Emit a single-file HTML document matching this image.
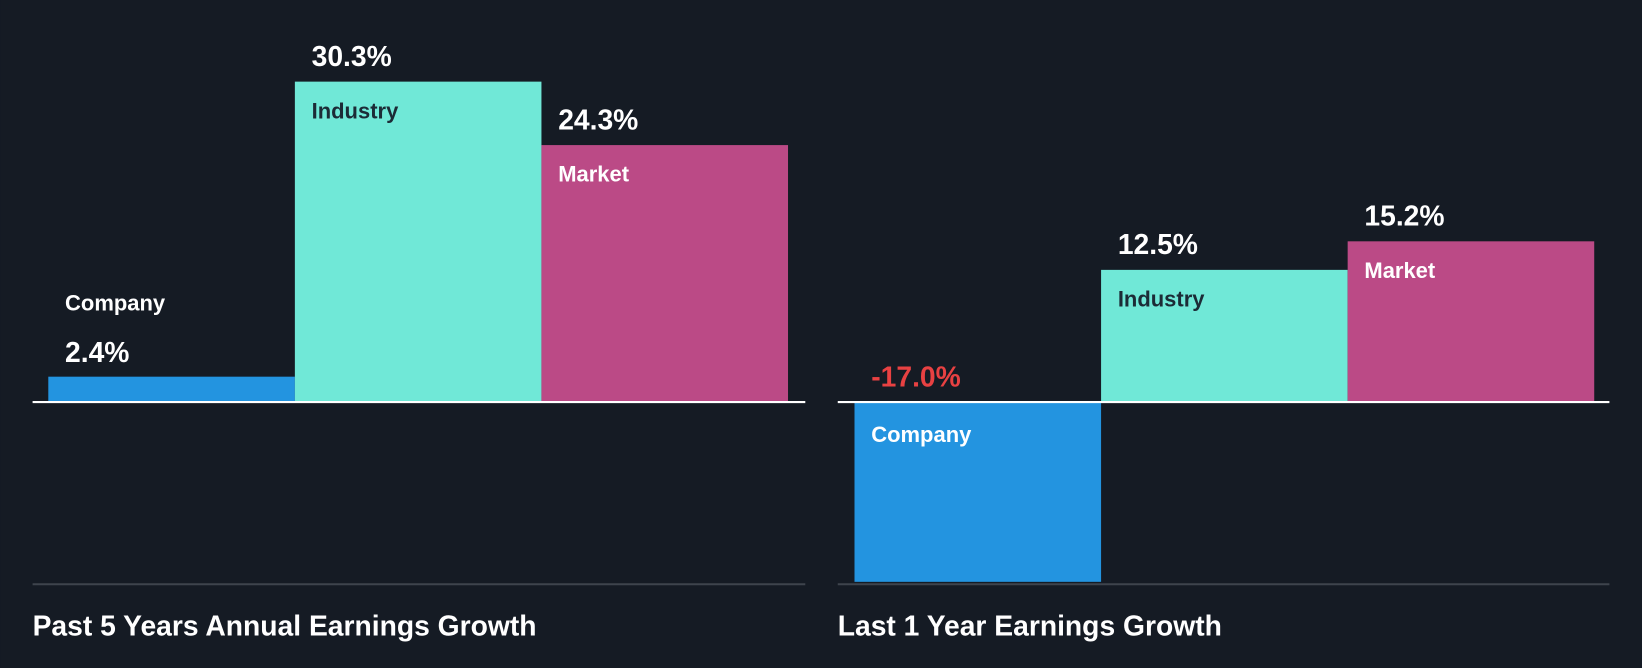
<!DOCTYPE html>
<html><head><meta charset="utf-8"><style>
html,body{margin:0;padding:0;background:#151b24;}
svg{display:block;}
text{font-family:"Liberation Sans",Arial,sans-serif;font-weight:bold;}
</style></head><body>
<svg id="chart" width="1642" height="668" viewBox="0 0 1568 638" xmlns="http://www.w3.org/2000/svg">
<rect width="1568" height="638" fill="#151b24"/>
<g id="p0"></g>
<g id="p1"></g>
</svg>
<script>
const categories = ["Company","Industry","Market"];
const past5Values = [2.4, 30.3, 24.3];
const last1Values = [-17.0, 12.5, 15.2];
const panelTitles = ["Past 5 Years Annual Earnings Growth","Last 1 Year Earnings Growth"];
const colors = ["#2394e0","#70e8d7","#bb4a86"];
const NS="http://www.w3.org/2000/svg";
const baseY=384, pxPer=10.1, barW=235.5;
const panels=[{g:'p0',x0:31,x1:769,bx:46,vals:past5Values},{g:'p1',x0:800,x1:1537,bx:816,vals:last1Values}];
function yScale(v){return baseY - v*pxPer;}
function mk(tag,attrs,parent){const e=document.createElementNS(NS,tag);for(const k in attrs)e.setAttribute(k,attrs[k]);parent.appendChild(e);return e;}
panels.forEach((p,pi)=>{
  const g=document.getElementById(p.g);
  p.vals.forEach((v,i)=>{
    const x=p.bx+i*barW;
    const top=Math.min(yScale(v),baseY), h=Math.abs(yScale(v)-baseY);
    const r=mk('rect',{x:x,y:top,width:barW,height:h,fill:colors[i]},g);
    
    
    const label=(v<0?'-':'')+Math.abs(v).toFixed(1)+'%';
    let valY,nameY,nameFill;
    if(v<0){valY=baseY-15;nameY=baseY+38;nameFill='#ffffff';}
    else if(h<60){valY=top-14;nameY=top-63;nameFill='#ffffff';}
    else{valY=top-15;nameY=top+35;nameFill=(i==1)?'#1c2b36':'#ffffff';}
    const vt=mk('text',{x:x+16,y:valY,fill:v<0?'#e84142':'#ffffff','font-size':27},g);
    vt.textContent=label;
    
    
    const nt=mk('text',{x:x+16,y:nameY,fill:nameFill,'font-size':21},g);
    nt.textContent=categories[i];
    
    
  });
  const zl=mk('line',{x1:p.x0,x2:p.x1,y1:baseY,y2:baseY,stroke:'#ffffff','stroke-width':2},g);
  
  
  const bl=mk('line',{x1:p.x0,x2:p.x1,y1:558,y2:558,stroke:'#3e444d','stroke-width':2},g);
  
  
  const t=mk('text',{x:p.x0,y:607,fill:'#ffffff','font-size':27},g);
  t.textContent=panelTitles[pi];
  
  
});
</script>
</body></html>
